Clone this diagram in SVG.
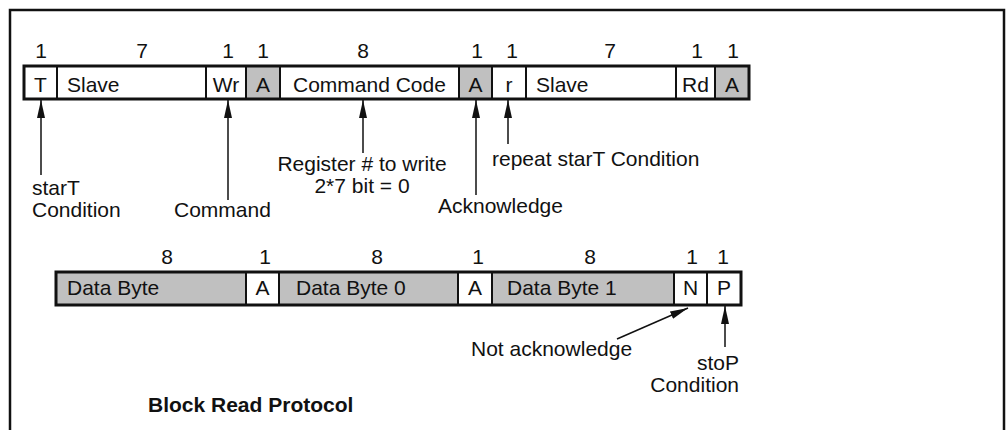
<svg xmlns="http://www.w3.org/2000/svg" width="1007" height="430" viewBox="0 0 1007 430">
<style>
text{font-family:"Liberation Sans",Arial,sans-serif;font-size:21px;fill:#111}
.c{text-anchor:middle}
.e{text-anchor:end}
.b{font-weight:bold}
.w{fill:#fff;stroke:#111;stroke-width:2}
.g{fill:#c0c0c0;stroke:#111;stroke-width:2}
.o{fill:none;stroke:#111;stroke-width:3}
.ln{stroke:#111;stroke-width:1.5;fill:none;marker-end:url(#ah)}
</style>
<defs>
<marker id="ah" viewBox="0 0 18 8" refX="18" refY="4" markerWidth="18" markerHeight="8" markerUnits="userSpaceOnUse" orient="auto">
<path d="M0,0 L18,4 L0,8 Z" fill="#111"/>
</marker>
</defs>
<rect width="1007" height="430" fill="#fff"/>
<path d="M10,430 V10 H1004 V430" fill="none" stroke="#111" stroke-width="2.5"/>

<g id="row1">
<g id="n-T"><rect class="w" x="24" y="66" width="33" height="33"/><text class="c" x="40.5" y="92">T</text><text class="c" x="41" y="58">1</text></g>
<g id="n-slave1"><rect class="w" x="57" y="66" width="149" height="33"/><text x="67" y="92">Slave</text><text class="c" x="142" y="58">7</text></g>
<g id="n-Wr"><rect class="w" x="206" y="66" width="40" height="33"/><text class="c" x="226" y="92">Wr</text><text class="c" x="228" y="58">1</text></g>
<g id="n-A1"><rect class="g" x="246" y="66" width="34" height="33"/><text class="c" x="263" y="92">A</text><text class="c" x="263" y="58">1</text></g>
<g id="n-cmd"><rect class="w" x="280" y="66" width="179" height="33"/><text x="293" y="92">Command Code</text><text class="c" x="363" y="58">8</text></g>
<g id="n-A2"><rect class="g" x="459" y="66" width="33" height="33"/><text class="c" x="475.5" y="92">A</text><text class="c" x="477" y="58">1</text></g>
<g id="n-r"><rect class="w" x="492" y="66" width="34" height="33"/><text class="c" x="509" y="92">r</text><text class="c" x="512" y="58">1</text></g>
<g id="n-slave2"><rect class="w" x="526" y="66" width="150" height="33"/><text x="536" y="92">Slave</text><text class="c" x="610" y="58">7</text></g>
<g id="n-Rd"><rect class="w" x="676" y="66" width="39" height="33"/><text class="c" x="695.5" y="92">Rd</text><text class="c" x="697" y="58">1</text></g>
<g id="n-A3"><rect class="g" x="715" y="66" width="34" height="33"/><text class="c" x="732" y="92">A</text><text class="c" x="733" y="58">1</text></g>
<rect class="o" x="24" y="66" width="725" height="33"/>
</g>

<g id="row2">
<g id="n-db"><rect class="g" x="56" y="272" width="190" height="33"/><text x="67" y="295">Data Byte</text><text class="c" x="167" y="264">8</text></g>
<g id="n-A4"><rect class="w" x="246" y="272" width="33" height="33"/><text class="c" x="262.5" y="295">A</text><text class="c" x="265" y="264">1</text></g>
<g id="n-db0"><rect class="g" x="279" y="272" width="179" height="33"/><text x="296" y="295">Data Byte 0</text><text class="c" x="377" y="264">8</text></g>
<g id="n-A5"><rect class="w" x="458" y="272" width="34" height="33"/><text class="c" x="475" y="295">A</text><text class="c" x="478" y="264">1</text></g>
<g id="n-db1"><rect class="g" x="492" y="272" width="182" height="33"/><text x="507" y="295">Data Byte 1</text><text class="c" x="590" y="264">8</text></g>
<g id="n-N"><rect class="w" x="674" y="272" width="33" height="33"/><text class="c" x="690.5" y="295">N</text><text class="c" x="692" y="264">1</text></g>
<g id="n-P"><rect class="w" x="707" y="272" width="34" height="33"/><text class="c" x="724" y="295">P</text><text class="c" x="723" y="264">1</text></g>
<rect class="o" x="56" y="272" width="685" height="33"/>
</g>

<g id="connectors">
<line class="ln" x1="41" y1="175" x2="41" y2="100"/>
<line class="ln" x1="228" y1="200" x2="228" y2="100"/>
<line class="ln" x1="363" y1="153" x2="363" y2="100"/>
<line class="ln" x1="476" y1="195" x2="476" y2="100"/>
<line class="ln" x1="508" y1="144" x2="508" y2="100"/>
<line class="ln" x1="617" y1="339" x2="688" y2="308"/>
<line class="ln" x1="725" y1="347" x2="725" y2="306"/>
</g>

<g id="labels">
<text x="32" y="195">starT</text>
<text x="32" y="217">Condition</text>
<text x="174" y="217">Command</text>
<text class="c" x="362" y="171">Register # to write</text>
<text class="c" x="362" y="193">2*7 bit = 0</text>
<text x="492" y="166">repeat starT Condition</text>
<text x="438" y="213">Acknowledge</text>
<text x="471" y="356">Not acknowledge</text>
<text class="e" x="739" y="370">stoP</text>
<text class="e" x="739" y="392">Condition</text>
<text class="b" x="148" y="412">Block Read Protocol</text>
</g>
</svg>
